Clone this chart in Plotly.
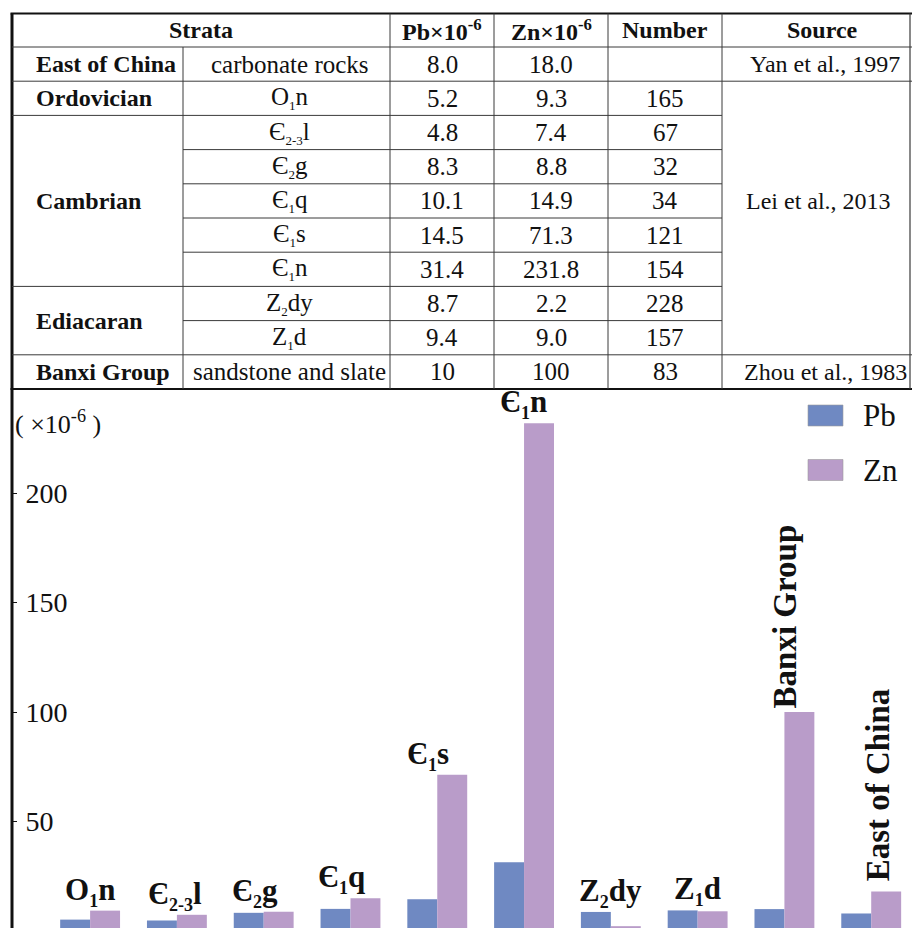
import plotly.graph_objects as go

# ---------------- data ----------------
categories = ["O1n", "E2-3l", "E2g", "E1q", "E1s", "E1n", "Z2dy", "Z1d", "Banxi Group", "East of China"]
bar_labels = ["O<sub>1</sub>n", "Є<sub>2-3</sub>l", "Є<sub>2</sub>g", "Є<sub>1</sub>q", "Є<sub>1</sub>s",
              "Є<sub>1</sub>n", "Z<sub>2</sub>dy", "Z<sub>1</sub>d", "Banxi Group", "East of China"]
pb_values = [5.2, 4.8, 8.3, 10.1, 14.5, 31.4, 8.7, 9.4, 10, 8.0]
zn_values = [9.3, 7.4, 8.8, 14.9, 71.3, 231.8, 2.2, 9.0, 100, 18.0]
y_tick_values = [50, 100, 150, 200]

table_header = ["Strata", "Pb×10<sup>-6</sup>", "Zn×10<sup>-6</sup>", "Number", "Source"]
table_units = ["carbonate rocks", "O<sub>1</sub>n", "Є<sub>2-3</sub>l", "Є<sub>2</sub>g", "Є<sub>1</sub>q",
               "Є<sub>1</sub>s", "Є<sub>1</sub>n", "Z<sub>2</sub>dy", "Z<sub>1</sub>d", "sandstone and slate"]
table_pb = ["8.0", "5.2", "4.8", "8.3", "10.1", "14.5", "31.4", "8.7", "9.4", "10"]
table_zn = ["18.0", "9.3", "7.4", "8.8", "14.9", "71.3", "231.8", "2.2", "9.0", "100"]
table_number = ["", "165", "67", "32", "34", "121", "154", "228", "157", "83"]
table_groups = ["East of China", "Ordovician", "Cambrian", "Ediacaran", "Banxi Group"]
table_group_rows = [1, 1, 5, 2, 1]          # rows spanned by each group
table_sources = ["Yan et al., 1997", "Lei et al., 2013", "Zhou et al., 1983"]
table_source_rows = [1, 8, 1]               # rows spanned by each source

# ---------------- layout constants ----------------
OFF = 0
W, H = 912, 928
FONT = "Liberation Serif"
PB_COLOR = "#6F89C2"
ZN_COLOR = "#B99CC9"


def small_sub(s, size):
    return (s.replace("<sub>", '<sub><span style="font-size:%dpx">' % size)
             .replace("</sub>", "</span></sub>"))


def px(x):
    return (x - OFF) / W


def py(y):
    return 1 - (y - OFF) / H


fig = go.Figure()
fig.add_trace(go.Bar(name="Pb", x=categories, y=pb_values, marker_color=PB_COLOR,
                     marker_line_width=0, showlegend=False))
fig.add_trace(go.Bar(name="Zn", x=categories, y=zn_values, marker_color=ZN_COLOR,
                     marker_line_width=0, showlegend=False))

shapes = []
annotations = []

# ---------------- table ----------------
t_top = 13.5
h_bot = 47.0
row_h = 34.2
n_rows = len(table_units)
t_bot = h_bot + n_rows * row_h
col_x = [12, 183, 390, 494, 608, 722, 910]
line_col = "#3a3a3a"


def hline(x0, x1, y, w=1.0, c=line_col):
    shapes.append(dict(type="line", xref="paper", yref="paper", x0=px(x0), x1=px(x1),
                       y0=py(y), y1=py(y), line=dict(color=c, width=w)))


def vline(x, y0, y1, w=1.0, c=line_col):
    shapes.append(dict(type="line", xref="paper", yref="paper", x0=px(x), x1=px(x),
                       y0=py(y0), y1=py(y1), line=dict(color=c, width=w)))


def text(x, y, s, size=25, bold=False, xanchor="center"):
    s = small_sub(s, 13)
    annotations.append(dict(xref="paper", yref="paper", x=px(x), y=py(y), text=("<b>%s</b>" % s) if bold else s,
                            showarrow=False, xanchor=xanchor, yanchor="middle",
                            font=dict(family=FONT, size=size, color="#111")))


def row_y(i):
    return h_bot + i * row_h


# outer borders
hline(10.5, 912, t_top, 2.2, "#111")
hline(10.5, 912, t_bot, 2.0, "#111")
vline(12, t_top, 928, 3.0, "#111")
vline(col_x[-1], t_top, t_bot, 1.2)
# header bottom
hline(12, 912, h_bot, 1.0)
# vertical inner lines
vline(col_x[1], h_bot, t_bot)
for cx in col_x[2:6]:
    vline(cx, t_top, t_bot)

group_bounds = [0]
for r in table_group_rows:
    group_bounds.append(group_bounds[-1] + r)
source_bounds = [0]
for r in table_source_rows:
    source_bounds.append(source_bounds[-1] + r)

for i in range(1, n_rows):
    x0 = col_x[0] if i in group_bounds else col_x[1]
    x1 = 912 if i in source_bounds else col_x[5]
    hline(x0, x1, row_y(i))

# header texts
text((col_x[0] + col_x[2]) / 2, (t_top + h_bot) / 2, table_header[0], size=24, bold=True)
for k in range(1, 5):
    cx = (col_x[k + 1] + col_x[k + 2]) / 2 if k < 4 else 822
    text(cx, (t_top + h_bot) / 2, table_header[k], size=24, bold=True)

# body texts
for i in range(n_rows):
    yc = row_y(i) + row_h / 2
    text((col_x[1] + col_x[2]) / 2 + 3, yc, table_units[i])
    text((col_x[2] + col_x[3]) / 2, yc, table_pb[i])
    text((col_x[3] + col_x[4]) / 2, yc, table_zn[i])
    text((col_x[4] + col_x[5]) / 2, yc, table_number[i])

for g, (name, start) in enumerate(zip(table_groups, group_bounds[:-1])):
    yc = (row_y(start) + row_y(group_bounds[g + 1])) / 2
    text(34, yc, name, size=24, bold=True, xanchor="left")

for s, (name, start) in enumerate(zip(table_sources, source_bounds[:-1])):
    if table_source_rows[s] > 1:
        yc = row_y(start) + row_h * 3.5
        text(818, yc, name, size=24)
    else:
        yc = row_y(start) + row_h / 2
        text(825, yc, name, size=24)

# ---------------- bar labels ----------------
rotated_shift = {"Banxi Group": (1, 2), "East of China": (7, 8)}
label_xshift = {"E2-3l": -2, "E2g": -9, "E1q": -9, "E1s": -9, "E1n": -1}
for cat, lab, p, z in zip(categories, bar_labels, pb_values, zn_values):
    top = max(p, z)
    lab = small_sub(lab, 18)
    if cat in rotated_shift:
        xs, ys = rotated_shift[cat]
        annotations.append(dict(x=cat, y=top, xref="x", yref="y", text="<b>%s</b>" % lab,
                                showarrow=False, textangle=-90, xanchor="center", yanchor="bottom",
                                xshift=xs, yshift=ys,
                                font=dict(family=FONT, size=33, color="#111")))
    else:
        annotations.append(dict(x=cat, y=top, xref="x", yref="y", text="<b>%s</b>" % lab,
                                showarrow=False, xanchor="center", yanchor="bottom",
                                xshift=label_xshift.get(cat, 0), yshift=-2,
                                font=dict(family=FONT, size=31, color="#111")))

# unit label
annotations.append(dict(xref="paper", yref="paper", x=px(13), y=py(423), text="( ×10<sup>-6</sup> )",
                        showarrow=False, xanchor="left", yanchor="middle",
                        font=dict(family=FONT, size=26, color="#111")))

# ---------------- legend (drawn) ----------------
for name, color, yc in [("Pb", PB_COLOR, 415.5), ("Zn", ZN_COLOR, 470)]:
    shapes.append(dict(type="rect", xref="paper", yref="paper", x0=px(808), x1=px(843),
                       y0=py(yc - 10.5), y1=py(yc + 10.5), fillcolor=color,
                       line=dict(color="#9a9a9a", width=0.6)))
    annotations.append(dict(xref="paper", yref="paper", x=px(861), y=py(yc), text=name,
                            showarrow=False, xanchor="left", yanchor="middle",
                            font=dict(family=FONT, size=31, color="#111")))

# ---------------- axes ----------------
plot_top = 390
y0_px = 931.0
px_per_unit = 2.19
y_lo = (y0_px - 928) / px_per_unit
y_hi = (y0_px - plot_top) / px_per_unit

fig.update_layout(
    width=W, height=H,
    margin=dict(l=0, r=0, t=0, b=0),
    paper_bgcolor="white", plot_bgcolor="white",
    barmode="group", bargap=0.31, bargroupgap=0.0,
    shapes=shapes, annotations=annotations,
    font=dict(family=FONT, color="#111"),
    xaxis=dict(domain=[px(12), 1.0], range=[-0.9, 9.47], showline=False, showticklabels=False,
               ticks="", showgrid=False, zeroline=False, fixedrange=True),
    yaxis=dict(domain=[0, py(plot_top)], range=[y_lo, y_hi], showline=False, showgrid=False,
               zeroline=False, tickvals=y_tick_values, ticks="inside", ticklen=5, tickwidth=1.2,
               tickcolor="#111", ticklabelposition="inside", ticklabelstandoff=11,
               tickfont=dict(family=FONT, size=28, color="#111")),
)

fig.write_html("out.html", config={"displayModeBar": False},
               post_script="document.body.style.margin='0';document.body.style.overflow='hidden';")
